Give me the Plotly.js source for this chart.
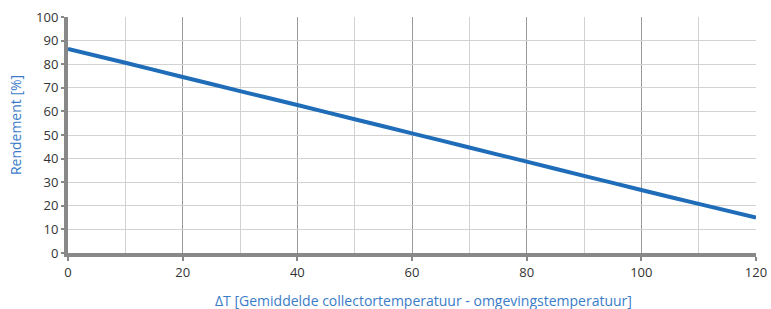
<!DOCTYPE html>
<html>
<head>
<meta charset="utf-8">
<script src="https://cdn.plot.ly/plotly-3.0.1.min.js"></script>
<style>html,body{margin:0;padding:0;background:#fff;}</style>
</head>
<body>
<div id="chart" style="width:771px;height:309px;"></div>
<script>
const deltaT = [0, 10, 20, 30, 40, 50, 60, 70, 80, 90, 100, 110, 120];
const rendement = [86.5, 80.6, 74.6, 68.6, 62.7, 56.7, 50.7, 44.7, 38.7, 32.7, 26.7, 20.8, 15.0];
const xTitle = 'ΔT [Gemiddelde collectortemperatuur - omgevingstemperatuur]';
const yTitle = 'Rendement [%]';

Plotly.newPlot('chart', [{
  x: deltaT, y: rendement, type: 'scatter', mode: 'lines',
  line: {color: '#1f6cb8', width: 4, shape: 'spline', smoothing: 0.6},
  hoverinfo: 'skip'
}], {
  width: 771, height: 309,
  margin: {l: 68, r: 15, t: 17, b: 56},
  paper_bgcolor: '#fff', plot_bgcolor: '#fff',
  showlegend: false,
  font: {family: 'Open Sans, sans-serif', color: '#333', size: 13},
  xaxis: {
    range: [0, 120], dtick: 20, tick0: 0,
    showgrid: true, gridcolor: '#9a9a9a', gridwidth: 1,
    minor: {dtick: 10, showgrid: true, gridcolor: '#d2d2d2', gridwidth: 1, ticks: ''},
    showline: true, linecolor: '#888', linewidth: 4,
    ticks: 'outside', ticklen: 4, tickcolor: '#888', tickwidth: 2,
    zeroline: false, fixedrange: true,
    tickfont: {size: 13, color: '#333'}
  },
  yaxis: {
    range: [0, 100], dtick: 10, tick0: 0,
    showgrid: true, gridcolor: '#d2d2d2', gridwidth: 1,
    showline: true, linecolor: '#888', linewidth: 4,
    ticks: 'outside', ticklen: 3, tickcolor: '#888', tickwidth: 2,
    zeroline: false, fixedrange: true,
    tickfont: {size: 13, color: '#333'}
  },
  annotations: [
    {text: xTitle, xref: 'paper', yref: 'paper', x: 0.517, y: -0.2, xanchor: 'center', yanchor: 'middle',
     showarrow: false, font: {size: 14, color: '#3a7cc8'}},
    {text: yTitle, xref: 'paper', yref: 'paper', x: -0.077, y: 0.542, xanchor: 'center', yanchor: 'middle',
     textangle: -90, showarrow: false, font: {size: 14, color: '#3a7cc8'}}
  ]
}, {displayModeBar: false, staticPlot: true});
</script>
</body>
</html>
